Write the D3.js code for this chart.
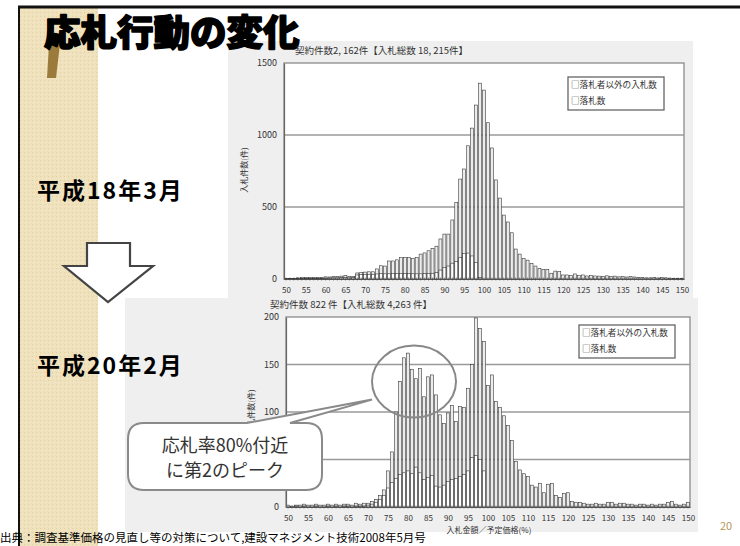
<!DOCTYPE html>
<html lang="ja">
<head>
<meta charset="utf-8">
<script src="https://cdn.jsdelivr.net/npm/d3@7"></script>
<style>
  html, body { margin: 0; padding: 0; background: #fff; }
  svg { display: block; }
  text { font-family: "Noto Sans CJK JP", "Noto Sans", sans-serif; }
</style>
</head>
<body>
<svg id="slide" width="740" height="546"></svg>
<script>
// Bid-rate bins (%): bid amount / planned price
const rateBins = d3.range(50, 151);
const rateTicks = d3.range(50, 151, 5);

// March 2006 (平成18年3月): all bids per bin, and winning bids per bin
const bids2006 = [
  2, 2, 3, 8, 9, 9, 10, 10, 9, 12,
  15, 14, 18, 18, 20, 24, 16, 18, 42, 44,
  48, 50, 50, 70, 92, 90, 125, 125, 133, 148,
  150, 150, 143, 150, 173, 181, 196, 213, 228, 278,
  312, 312, 410, 530, 694, 764, 925, 1048, 1208, 1360,
  1312, 1085, 910, 688, 562, 444, 396, 321, 208, 173,
  143, 131, 108, 90, 74, 67, 67, 40, 55, 51,
  28, 28, 23, 35, 23, 28, 21, 25, 21, 20,
  18, 22, 18, 20, 15, 16, 14, 18, 14, 12,
  10, 8, 8, 10, 7, 9, 8, 6, 5, 5,
  4
];
const wins2006 = [
  2, 2, 2, 4, 4, 4, 5, 5, 4, 5,
  6, 7, 8, 8, 9, 10, 8, 10, 28, 30,
  32, 33, 33, 35, 38, 36, 36, 38, 38, 38,
  38, 38, 36, 36, 36, 37, 38, 40, 45, 62,
  80, 90, 110, 120, 150, 178, 180, 160, 115, 10,
  0, 0, 0, 0, 0, 0, 0, 0, 0, 0,
  0, 0, 0, 0, 0, 0, 0, 0, 0, 0,
  0, 0, 0, 0, 0, 0, 0, 0, 0, 0,
  0, 0, 0, 0, 0, 0, 0, 0, 0, 0,
  0, 0, 0, 0, 0, 0, 0, 0, 0, 0,
  0
];

// February 2008 (平成20年2月)
const bids2008 = [
  2, 1, 2, 2, 3, 2, 2, 3, 2, 2,
  3, 2, 3, 2, 3, 3, 2, 4, 3, 4,
  4, 6, 8, 12, 18, 38, 58, 100, 132, 157,
  162, 145, 135, 146, 116, 137, 139, 118, 97, 88,
  99, 107, 90, 106, 105, 125, 150, 199, 188, 174,
  128, 139, 111, 105, 96, 86, 70, 48, 39, 35,
  32, 23, 21, 25, 15, 24, 25, 12, 10, 14,
  15, 6, 5, 5, 4, 3, 3, 4, 3, 3,
  5, 5, 3, 4, 4, 3, 3, 2, 3, 3,
  2, 3, 2, 3, 3, 5, 6, 3, 2, 3,
  5
];
const wins2008 = [
  0, 0, 1, 0, 1, 0, 0, 1, 0, 0,
  1, 0, 1, 0, 1, 1, 0, 1, 1, 1,
  2, 3, 5, 8, 12, 20, 26, 30, 34, 36,
  38, 35, 42, 36, 29, 31, 33, 22, 21, 23,
  27, 29, 30, 32, 34, 38, 52, 54, 50, 38,
  0, 0, 0, 0, 0, 0, 0, 0, 0, 0,
  0, 0, 0, 0, 0, 0, 0, 0, 0, 0,
  0, 0, 0, 0, 0, 0, 0, 0, 0, 0,
  0, 0, 0, 0, 0, 0, 0, 0, 0, 0,
  0, 0, 0, 0, 0, 0, 0, 0, 0, 0,
  0
];

const yTicks2006 = [0, 500, 1000, 1500];
const yTicks2008 = [0, 50, 100, 150, 200];
const legendLabels = ["□落札者以外の入札数", "□落札数"];

const svg = d3.select("#slide");

// ---- slide frame and decorative left band ----
const defs = svg.append("defs");
const pat = defs.append("pattern").attr("id", "grain")
  .attr("width", 4).attr("height", 4).attr("patternUnits", "userSpaceOnUse");
pat.append("rect").attr("width", 4).attr("height", 4).attr("fill", "#efe1bc");
pat.append("rect").attr("x", 0).attr("y", 0).attr("width", 1).attr("height", 1).attr("fill", "#e3d1a4");
pat.append("rect").attr("x", 2).attr("y", 2).attr("width", 1).attr("height", 1).attr("fill", "#f6ebcf");

svg.append("rect").attr("x", 20).attr("y", 8).attr("width", 78).attr("height", 538).attr("fill", "url(#grain)");
svg.append("line").attr("x1", 18).attr("x2", 740).attr("y1", 7).attr("y2", 7)
  .attr("stroke", "#111").attr("stroke-width", 3);
svg.append("line").attr("x1", 19).attr("x2", 19).attr("y1", 6).attr("y2", 546)
  .attr("stroke", "#111").attr("stroke-width", 2);

// brown accent bar beside the heading
svg.append("polygon").attr("points", "49,44 60,44 56,78 47,78").attr("fill", "#9b7b3c");

// ---- chart panels (grey backgrounds) ----
svg.append("rect").attr("x", 228).attr("y", 41).attr("width", 465).attr("height", 259).attr("fill", "#efefef");
svg.append("rect").attr("x", 125).attr("y", 298).attr("width", 573).attr("height", 234).attr("fill", "#efefef");

// heading
svg.append("text").attr("x", 44).attr("y", 46)
  .attr("font-size", 36.5).attr("font-weight", 900)
  .attr("fill", "#000").attr("stroke", "#000").attr("stroke-width", 1.6)
  .attr("stroke-linejoin", "round")
  .text("応札行動の変化");

function drawHistogram(cfg) {
  const g = svg.append("g");
  const x = d3.scaleLinear().domain([49.5, 150.5]).range([cfg.left, cfg.right]);
  const y = d3.scaleLinear().domain([0, cfg.yMax]).range([cfg.bottom, cfg.top]);

  // plot area
  g.append("rect").attr("x", cfg.left).attr("y", cfg.top)
    .attr("width", cfg.right - cfg.left).attr("height", cfg.bottom - cfg.top)
    .attr("fill", "#fff").attr("stroke", "#8a8a8a").attr("stroke-width", 1.3);

  // horizontal gridlines
  g.selectAll("line.grid").data(cfg.yTicks.filter(d => d > 0 && d < cfg.yMax)).join("line")
    .attr("x1", cfg.left).attr("x2", cfg.right)
    .attr("y1", d => y(d)).attr("y2", d => y(d))
    .attr("stroke", "#9a9a9a").attr("stroke-width", 1.4);

  const bw = 3.0;
  const data = rateBins.map((r, i) => ({ r, all: cfg.bids[i], won: cfg.wins[i] }));

  g.selectAll("rect.all").data(data).join("rect")
    .attr("x", d => x(d.r) - bw / 2).attr("width", bw)
    .attr("y", d => y(d.all)).attr("height", d => y(0) - y(d.all))
    .attr("fill", "#ececec").attr("stroke", "#2a2a2a").attr("stroke-width", 0.55);

  g.selectAll("rect.won").data(data.filter(d => d.won > 0)).join("rect")
    .attr("x", d => x(d.r) - bw / 2).attr("width", bw)
    .attr("y", d => y(d.won)).attr("height", d => y(0) - y(d.won))
    .attr("fill", "#fff").attr("stroke", "#2a2a2a").attr("stroke-width", 0.55);

  // axes
  const yAxis = d3.axisLeft(y).tickValues(cfg.yTicks).tickFormat(d3.format("d"))
    .tickSize(0).tickPadding(7);
  const ya = g.append("g").attr("transform", `translate(${cfg.left},0)`).call(yAxis);
  ya.select(".domain").attr("stroke", "#666").attr("stroke-width", 1.2);
  ya.selectAll("text").attr("font-size", 9).attr("fill", "#333")
    .attr("font-family", "'Noto Sans CJK JP', sans-serif");

  const xAxis = d3.axisBottom(x).tickValues(rateTicks).tickSize(0).tickPadding(8);
  const xa = g.append("g").attr("transform", `translate(0,${cfg.bottom})`).call(xAxis);
  xa.select(".domain").attr("stroke", "#555").attr("stroke-width", 1.2);
  xa.selectAll("text").attr("font-size", 8).attr("fill", "#333")
    .attr("font-family", "'Noto Sans CJK JP', sans-serif");

  // minor ticks on every bin
  g.selectAll("line.minor").data(rateBins).join("line")
    .attr("x1", d => x(d)).attr("x2", d => x(d))
    .attr("y1", cfg.bottom - 1.5).attr("y2", cfg.bottom + 1.5)
    .attr("stroke", "#444").attr("stroke-width", 0.6);

  // title
  g.append("text").attr("x", cfg.titleX).attr("y", cfg.titleY)
    .attr("font-size", 9.5).attr("fill", "#333").text(cfg.title);

  // y-axis label
  g.append("text")
    .attr("transform", `translate(${cfg.yLabelX},${cfg.yLabelY}) rotate(-90)`)
    .attr("text-anchor", "middle").attr("font-size", 8).attr("fill", "#333")
    .text("入札件数(件)");

  // legend
  const lg = g.append("g");
  lg.append("rect").attr("x", cfg.legX).attr("y", cfg.legY).attr("width", 96).attr("height", 33)
    .attr("fill", "#fff").attr("stroke", "#666").attr("stroke-width", 1.3);
  lg.selectAll("text").data(legendLabels).join("text")
    .attr("x", cfg.legX + 3).attr("y", (d, i) => cfg.legY + 11 + i * 16)
    .attr("font-size", 8.6).attr("fill", "#333").text(d => d);

  return { x, y };
}

drawHistogram({
  left: 284, right: 684, top: 63, bottom: 279, yMax: 1500,
  yTicks: yTicks2006, bids: bids2006, wins: wins2006,
  title: "契約件数2, 162件【入札総数 18, 215件】", titleX: 295, titleY: 54,
  yLabelX: 247, yLabelY: 170, legX: 568, legY: 77
});

const bottom = drawHistogram({
  left: 286, right: 690, top: 317, bottom: 507, yMax: 200,
  yTicks: yTicks2008, bids: bids2008, wins: wins2008,
  title: "契約件数 822 件【入札総数 4,263 件】", titleX: 270, titleY: 308,
  yLabelX: 254, yLabelY: 412, legX: 579, legY: 325
});

svg.append("text").attr("x", 489).attr("y", 533).attr("text-anchor", "middle")
  .attr("font-size", 8).attr("fill", "#333").text("入札金額／予定価格(%)");

// ---- period labels and arrow ----
svg.append("text").attr("x", 37).attr("y", 199).attr("font-size", 23).attr("font-weight", 700)
  .attr("letter-spacing", 2).attr("fill", "#000").text("平成18年3月");
svg.append("text").attr("x", 37).attr("y", 374).attr("font-size", 23).attr("font-weight", 700)
  .attr("letter-spacing", 2).attr("fill", "#000").text("平成20年2月");

svg.append("polygon")
  .attr("points", "87,243 130,243 130,266 153,266 108,302 64,266 87,266")
  .attr("fill", "#fff").attr("stroke", "#444").attr("stroke-width", 2.2)
  .attr("stroke-linejoin", "miter");

// ---- annotation: second peak near 80% ----
const bx = bottom.x, by = bottom.y;
svg.append("ellipse")
  .attr("cx", bx(81.5)).attr("cy", by(132)).attr("rx", 42).attr("ry", 36)
  .attr("fill", "none").attr("stroke", "#888").attr("stroke-width", 2);

const callout = d3.path();
const cl = 128, cr = 322, ct = 423, cb = 490, rad = 16;
callout.moveTo(cl + rad, ct);
callout.lineTo(247, ct);
callout.lineTo(bx(81.5) - 42, by(132) + 18);
callout.lineTo(290, ct);
callout.lineTo(cr - rad, ct);
callout.quadraticCurveTo(cr, ct, cr, ct + rad);
callout.lineTo(cr, cb - rad);
callout.quadraticCurveTo(cr, cb, cr - rad, cb);
callout.lineTo(cl + rad, cb);
callout.quadraticCurveTo(cl, cb, cl, cb - rad);
callout.lineTo(cl, ct + rad);
callout.quadraticCurveTo(cl, ct, cl + rad, ct);
callout.closePath();
svg.append("path").attr("d", callout.toString())
  .attr("fill", "#fff").attr("stroke", "#8a8a8a").attr("stroke-width", 2);

svg.append("text").attr("x", 225).attr("y", 452).attr("text-anchor", "middle")
  .attr("font-size", 18).attr("fill", "#333").text("応札率80%付近");
svg.append("text").attr("x", 225).attr("y", 477).attr("text-anchor", "middle")
  .attr("font-size", 18).attr("fill", "#333").text("に第2のピーク");

// ---- footer ----
svg.append("text").attr("x", 0).attr("y", 542).attr("font-size", 11.5).attr("fill", "#000")
  .text("出典：調査基準価格の見直し等の対策について,建設マネジメント技術2008年5月号");
svg.append("text").attr("x", 720).attr("y", 530).attr("font-size", 11).attr("fill", "#b8955a")
  .text("20");
</script>
</body>
</html>
